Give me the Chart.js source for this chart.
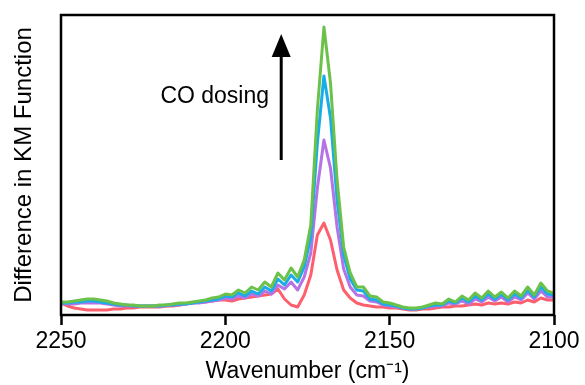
<!DOCTYPE html>
<html>
<head>
<meta charset="utf-8">
<script src="https://cdn.jsdelivr.net/npm/chart.js@4"></script>
<style>
html,body{margin:0;padding:0;background:#fff;}
#wrap{width:585px;height:385px;}
</style>
</head>
<body>
<div id="wrap"><canvas id="c" width="585" height="385"></canvas></div>
<script>
const wavenumbers = [
2250,2248,2246,2244,2242,2240,2238,2236,2234,2232,
2230,2228,2226,2224,2222,2220,2218,2216,2214,2212,
2210,2208,2206,2204,2202,2200,2198,2196,2194,2192,
2190,2188,2186,2184,2182,2180,2178,2176,2174,2172,
2170,2168,2166,2164,2162,2160,2158,2156,2154,2152,
2150,2148,2146,2144,2142,2140,2138,2136,2134,2132,
2130,2128,2126,2124,2122,2120,2118,2116,2114,2112,
2110,2108,2106,2104,2102,2100];

const greenSeries = [
13,13,14,15,16,16,15,14,12,11,
10,10,9,9,9,10,10,11,12,12,
13,14,15,17,18,21,20,25,22,28,
25,33,28,42,35,47,38,55,90,205,
288,232,135,68,42,28,28,19,18,13,
12,10,8,7,7,8,10,12,11,16,
13,19,15,22,17,24,18,23,17,24,
19,28,20,32,24,22];

const cyanSeries = [
12,12,13,13,14,14,13,12,11,10,
10,9,9,9,9,9,10,10,11,11,
12,13,14,15,16,19,18,22,19,24,
21,28,24,36,30,40,33,48,78,172,
239,197,115,60,36,25,24,16,15,11,
10,9,7,6,6,7,9,10,10,14,
12,17,13,19,15,21,16,21,15,21,
17,25,18,28,21,20];

const purpleSeries = [
12,11,11,12,12,12,12,11,10,9,
9,9,9,9,9,9,9,10,10,11,
12,12,13,14,15,17,16,19,17,21,
19,24,21,30,26,33,25,38,62,127,
175,147,88,46,28,20,19,14,13,10,
9,8,7,6,6,7,8,9,9,12,
11,14,11,16,13,18,14,18,13,18,
15,22,16,24,18,18];

const redSeries = [
12,9,7,6,5,5,5,5,6,6,
7,7,8,8,8,8,9,9,10,11,
12,13,13,14,15,15,14,16,17,18,
19,20,21,26,16,10,8,20,40,80,
92,75,45,25,17,12,10,9,8,8,
7,7,6,5,5,6,6,7,8,8,
9,9,10,11,10,12,11,12,11,13,
12,15,13,17,15,15];

const xTicks = [2250, 2200, 2150, 2100];

function pts(arr){ return arr.map((v,i)=>({x:wavenumbers[i], y:v})); }

const FONT = '"Liberation Sans", Arial, sans-serif';

const framePlugin = {
  id:'frame',
  afterDatasetsDraw(chart){
    const {ctx, chartArea:a, scales} = chart;
    ctx.save();
    ctx.strokeStyle = '#000';
    ctx.lineWidth = 2.5;
    ctx.strokeRect(a.left, a.top, a.right - a.left, a.bottom - a.top);
    // annotation arrow
    const ax = scales.x.getPixelForValue(2183);
    const yBot = scales.y.getPixelForValue(155);
    const yTop = scales.y.getPixelForValue(281);
    const yHead = scales.y.getPixelForValue(258);
    ctx.lineWidth = 3;
    ctx.beginPath();
    ctx.moveTo(ax, yBot);
    ctx.lineTo(ax, yHead - 3);
    ctx.stroke();
    ctx.fillStyle = '#000';
    ctx.beginPath();
    ctx.moveTo(ax, yTop);
    ctx.lineTo(ax - 9.5, yHead);
    ctx.lineTo(ax + 9.5, yHead);
    ctx.closePath();
    ctx.fill();
    // text
    ctx.font = '23px ' + FONT;
    ctx.textAlign = 'right';
    ctx.textBaseline = 'middle';
    ctx.fillText('CO dosing', scales.x.getPixelForValue(2186.7), scales.y.getPixelForValue(218));
    ctx.restore();
  }
};

new Chart(document.getElementById('c'), {
  type:'line',
  data:{
    datasets:[
      {label:'4', data:pts(greenSeries), borderColor:'#6cc14a', borderWidth:3},
      {label:'3', data:pts(cyanSeries), borderColor:'#18ade9', borderWidth:3},
      {label:'2', data:pts(purpleSeries), borderColor:'#b673e6', borderWidth:3},
      {label:'1', data:pts(redSeries), borderColor:'#fd5f6c', borderWidth:3}
    ]
  },
  options:{
    responsive:false,
    animation:false,
    events:[],
    layout:{padding:{left:0,right:31,top:15,bottom:0}},
    elements:{point:{radius:0}, line:{tension:0, borderJoinStyle:'round'}},
    plugins:{legend:{display:false}, tooltip:{enabled:false}},
    scales:{
      x:{
        type:'linear', reverse:true, min:2100, max:2250,
        afterBuildTicks(axis){ axis.ticks = xTicks.map(v=>({value:v})); },
        afterFit(axis){ axis.height = 70; },
        border:{display:false},
        grid:{display:true, drawOnChartArea:false, drawTicks:true, tickLength:10, tickWidth:2.5, tickColor:'#000'},
        ticks:{color:'#000', font:{family:FONT, size:23}, padding:3, maxRotation:0, autoSkip:false,
               callback:(v)=>String(v)},
        title:{display:true, text:'Wavenumber (cm\u207B\u00B9)', color:'#000', font:{family:FONT, size:23}, padding:{top:0,bottom:0}}
      },
      y:{
        min:0, max:300,
        afterFit(axis){ axis.width = 61; },
        border:{display:false},
        grid:{display:false},
        ticks:{display:false},
        title:{display:true, text:'Difference in KM Function', color:'#000', font:{family:FONT, size:24}, padding:{top:10,bottom:0}}
      }
    }
  },
  plugins:[framePlugin]
});
</script>
</body>
</html>
